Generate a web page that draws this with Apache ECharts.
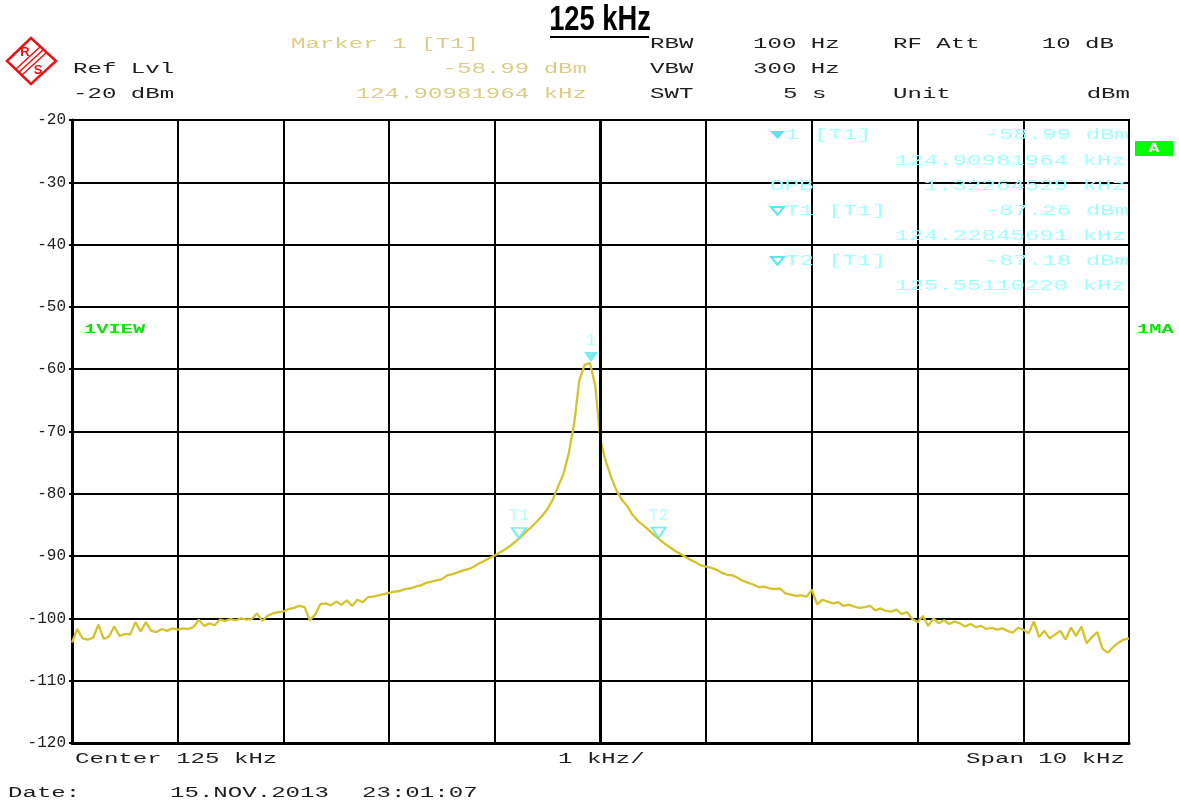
<!DOCTYPE html>
<html>
<head>
<meta charset="utf-8">
<script src="https://cdn.jsdelivr.net/npm/echarts@6/dist/echarts.min.js"></script>
<style>html,body{margin:0;padding:0;background:#fff;}#c{width:1179px;height:803px;}</style>
</head>
<body>
<div id="c"></div>
<script>
// ---- Sweep parameters (x grid of the analyzer) ----
const freqStart = 120;      // kHz
const freqStep = 0.05;      // kHz per sweep point
const freqMin = 120, freqMax = 130, freqDiv = 1;
const levelMin = -120, levelMax = -20, levelDiv = 10;

// ---- Trace levels (dBm) ----
const levels = [
-103.9,-101.7,-103.2,-103.4,-103.1,-101.0,-103.3,-102.9,-101.3,-102.8,
-102.5,-102.6,-100.6,-102.1,-100.6,-102.0,-102.2,-101.7,-102.0,-101.6,
-101.8,-101.6,-101.7,-101.4,-100.2,-101.2,-100.8,-101.1,-100.2,-100.4,
-100.1,-100.3,-100.0,-100.2,-100.1,-99.2,-100.4,-99.6,-99.2,-99.0,
-98.9,-98.5,-98.3,-98.0,-98.2,-100.3,-99.4,-97.7,-97.6,-97.9,
-97.3,-97.8,-97.1,-98.0,-97.0,-97.4,-96.6,-96.5,-96.3,-96.1,
-95.9,-95.7,-95.6,-95.3,-95.2,-94.9,-94.7,-94.3,-94.1,-93.9,
-93.7,-93.1,-92.9,-92.6,-92.3,-92.1,-91.7,-91.2,-90.8,-90.3,
-89.9,-89.4,-88.9,-88.3,-87.6,-86.9,-86.0,-85.3,-84.4,-83.5,
-82.4,-80.9,-78.8,-76.8,-73.5,-68.8,-61.8,-59.3,-59.0,-62.6,
-71.4,-74.8,-77.3,-79.4,-80.9,-81.9,-83.3,-84.3,-85.0,-85.7,
-86.5,-87.2,-87.9,-88.5,-89.1,-89.6,-90.1,-90.6,-91.0,-91.5,
-91.7,-91.9,-92.2,-92.7,-93.0,-93.1,-93.5,-94.0,-94.3,-94.6,
-95.0,-94.9,-95.2,-95.3,-95.2,-96.0,-96.2,-96.4,-96.3,-96.5,
-95.4,-97.8,-97.0,-97.3,-97.6,-97.4,-98.0,-97.8,-98.1,-98.3,
-98.2,-98.0,-98.7,-98.4,-98.8,-98.9,-98.6,-99.3,-99.0,-100.1,
-100.6,-99.6,-101.2,-100.0,-100.8,-100.3,-100.9,-100.5,-100.8,-101.3,
-100.9,-101.4,-101.2,-101.7,-101.5,-101.8,-101.6,-102.0,-102.3,-101.5,
-101.8,-102.4,-100.5,-103.0,-102.0,-103.2,-102.6,-102.0,-103.4,-101.5,
-102.8,-101.3,-104.0,-103.0,-102.2,-104.9,-105.5,-104.6,-103.9,-103.4,
-103.2
];

// ---- Markers ----
const markerNames = ['1', 'T1', 'T2'];
const markerFreqs = [124.90981964, 124.22845691, 125.55110220];
const markerLevels = [-58.99, -87.26, -87.18];
const markerFilled = [true, false, false];

// ---- Texts ----
const titleText = '125 kHz';
const headerLeft = [['Ref Lvl', 73, 69], ['-20 dBm', 73, 94]];
const headerMarker = [['Marker 1 [T1]', 291, 44, 'left'], ['-58.99 dBm', 587, 69, 'right'], ['124.90981964 kHz', 587, 94, 'right']];
const headerRight = [
  ['RBW', 650, 44, 'left'], ['100 Hz', 753, 44, 'left'], ['RF Att', 893, 44, 'left'], ['10 dB', 1114, 44, 'right'],
  ['VBW', 650, 69, 'left'], ['300 Hz', 753, 69, 'left'],
  ['SWT', 650, 94, 'left'], ['5 s', 783, 94, 'left'], ['Unit', 893, 94, 'left'], ['dBm', 1130, 94, 'right']
];
const markerInfo = [
  ['1 [T1]', 785, 135, 'left'], ['-58.99 dBm', 1129, 135, 'right'],
  ['124.90981964 kHz', 1126, 161, 'right'],
  ['OPB', 770, 186, 'left'], ['1.32264529 kHz', 1126, 186, 'right'],
  ['T1 [T1]', 785, 211, 'left'], ['-87.26 dBm', 1129, 211, 'right'],
  ['124.22845691 kHz', 1126, 236, 'right'],
  ['T2 [T1]', 785, 261, 'left'], ['-87.18 dBm', 1129, 261, 'right'],
  ['125.55110220 kHz', 1126, 286, 'right']
];
const bottomTexts = [
  ['Center 125 kHz', 75, 759, 'left'], ['1 kHz/', 558, 759, 'left'], ['Span 10 kHz', 1125, 759, 'right'],
  ['Date:', 8, 793, 'left'], ['15.NOV.2013', 170, 793, 'left'], ['23:01:07', 362, 793, 'left']
];

const trace = levels.map((v, i) => [freqStart + i * freqStep, v]);

const MONO = '"Liberation Mono", "DejaVu Sans Mono", monospace';
const SX = 1.72;
function txt(s, x, y, color, align, extra) {
  return Object.assign({
    type: 'text', x: x, y: y, scaleX: SX, scaleY: 1, z: 50,
    style: { text: s, fill: color, font: '14px ' + MONO, align: align || 'left', verticalAlign: 'middle' }
  }, extra || {});
}

const BLACK = '#1e1e1e', YEL = '#dccd86', CYAN = '#a0ffff', CYAN2 = '#55e8f0', GREEN = '#10e010';

const graphics = [];
// title
graphics.push({ type: 'text', x: 600, y: 20, scaleX: 0.78, z: 50,
  style: { text: titleText, fill: '#000', font: 'bold 35px "Liberation Sans", Arial, sans-serif', align: 'center', verticalAlign: 'middle' } });
graphics.push({ type: 'line', z: 50, shape: { x1: 550, y1: 37, x2: 649, y2: 37 }, style: { stroke: '#000', lineWidth: 2 } });
// logo
graphics.push({ type: 'polygon', z: 50, shape: { points: [[7, 61], [31, 38], [56, 61], [31, 84]] }, style: { fill: 'none', stroke: '#ee1111', lineWidth: 2.5 } });
[-3, 0, 3].forEach(d => {
  graphics.push({ type: 'line', z: 50, shape: { x1: 19 + d, y1: 72 + d, x2: 43 + d, y2: 50 + d }, style: { stroke: '#ee1111', lineWidth: 1.5 } });
});
graphics.push({ type: 'text', x: 25, y: 52, z: 50, style: { text: 'R', fill: '#ee1111', font: 'bold 13px "Liberation Sans"', align: 'center', verticalAlign: 'middle' } });
graphics.push({ type: 'text', x: 38, y: 70, z: 50, style: { text: 'S', fill: '#ee1111', font: 'bold 13px "Liberation Sans"', align: 'center', verticalAlign: 'middle' } });

headerLeft.forEach(t => graphics.push(txt(t[0], t[1], t[2], BLACK, 'left')));
headerMarker.forEach(t => graphics.push(txt(t[0], t[1], t[2], YEL, t[3])));
headerRight.forEach(t => graphics.push(txt(t[0], t[1], t[2], BLACK, t[3])));
markerInfo.forEach(t => graphics.push(txt(t[0], t[1], t[2], CYAN, t[3])));
bottomTexts.forEach(t => graphics.push(txt(t[0], t[1], t[2], BLACK, t[3])));
// marker info triangles
graphics.push({ type: 'polygon', z: 50, shape: { points: [[770, 131], [785, 131], [777.5, 139]] }, style: { fill: CYAN2 } });
[211, 261].forEach(yy => graphics.push({ type: 'polygon', z: 50, shape: { points: [[771, yy - 4], [784, yy - 4], [777.5, yy + 4]] }, style: { fill: 'none', stroke: CYAN2, lineWidth: 2 } }));
// green labels
graphics.push({ type: 'text', x: 84, y: 330, scaleX: 1.7, z: 50, style: { text: '1VIEW', fill: GREEN, font: 'bold 12px ' + MONO, align: 'left', verticalAlign: 'middle' } });
graphics.push({ type: 'text', x: 1137, y: 330, scaleX: 1.7, z: 50, style: { text: '1MA', fill: GREEN, font: 'bold 12px ' + MONO, align: 'left', verticalAlign: 'middle' } });
graphics.push({ type: 'rect', z: 50, shape: { x: 1135, y: 141, width: 38, height: 15 }, style: { fill: '#00ff00' } });
graphics.push({ type: 'text', x: 1154, y: 149, scaleX: 1.5, z: 51, style: { text: 'A', fill: '#fff', font: 'bold 12px ' + MONO, align: 'center', verticalAlign: 'middle' } });

const markerData = markerNames.map((n, i) => ({
  name: n, value: [markerFreqs[i], markerLevels[i]],
  itemStyle: markerFilled[i] ? { color: CYAN2 } : { color: '#ffffff', borderColor: CYAN2, borderWidth: 2 }
}));

const chart = echarts.init(document.getElementById('c'), null, { renderer: 'canvas' });
chart.setOption({
  animation: false,
  backgroundColor: '#ffffff',
  grid: { left: 72, right: 50, top: 120, bottom: 60, show: true, borderColor: '#000', borderWidth: 2, backgroundColor: 'transparent' },
  xAxis: {
    type: 'value', min: freqMin, max: freqMax, interval: freqDiv,
    axisLine: { show: true, onZero: false, lineStyle: { color: '#000', width: 3 } },
    axisTick: { show: false }, axisLabel: { show: false },
    splitLine: { show: true, lineStyle: { color: '#000', width: 2 } }
  },
  yAxis: {
    type: 'value', min: levelMin, max: levelMax, interval: levelDiv,
    axisLine: { show: true, lineStyle: { color: '#000', width: 3 } },
    axisTick: { show: true, length: 3, lineStyle: { color: '#000', width: 2 } },
    axisLabel: { color: BLACK, fontFamily: MONO, fontSize: 16, margin: 6 },
    splitLine: { show: true, lineStyle: { color: '#000', width: 2 } }
  },
  series: [
    {
      type: 'line', data: trace, showSymbol: false, z: 3,
      lineStyle: { color: '#d4c32c', width: 2.3 },
      markLine: { silent: true, symbol: 'none', label: { show: false }, animation: false,
        lineStyle: { color: '#000', width: 3, type: 'solid' }, data: [{ xAxis: 125 }] }
    },
    {
      type: 'scatter', data: markerData, z: 5,
      symbol: 'triangle', symbolRotate: 180, symbolSize: [14, 10], symbolOffset: [0, -6],
      label: { show: true, position: 'top', distance: 3, formatter: p => p.name, color: CYAN, fontFamily: MONO, fontSize: 17 }
    }
  ],
  graphic: graphics
});
</script>
</body>
</html>
